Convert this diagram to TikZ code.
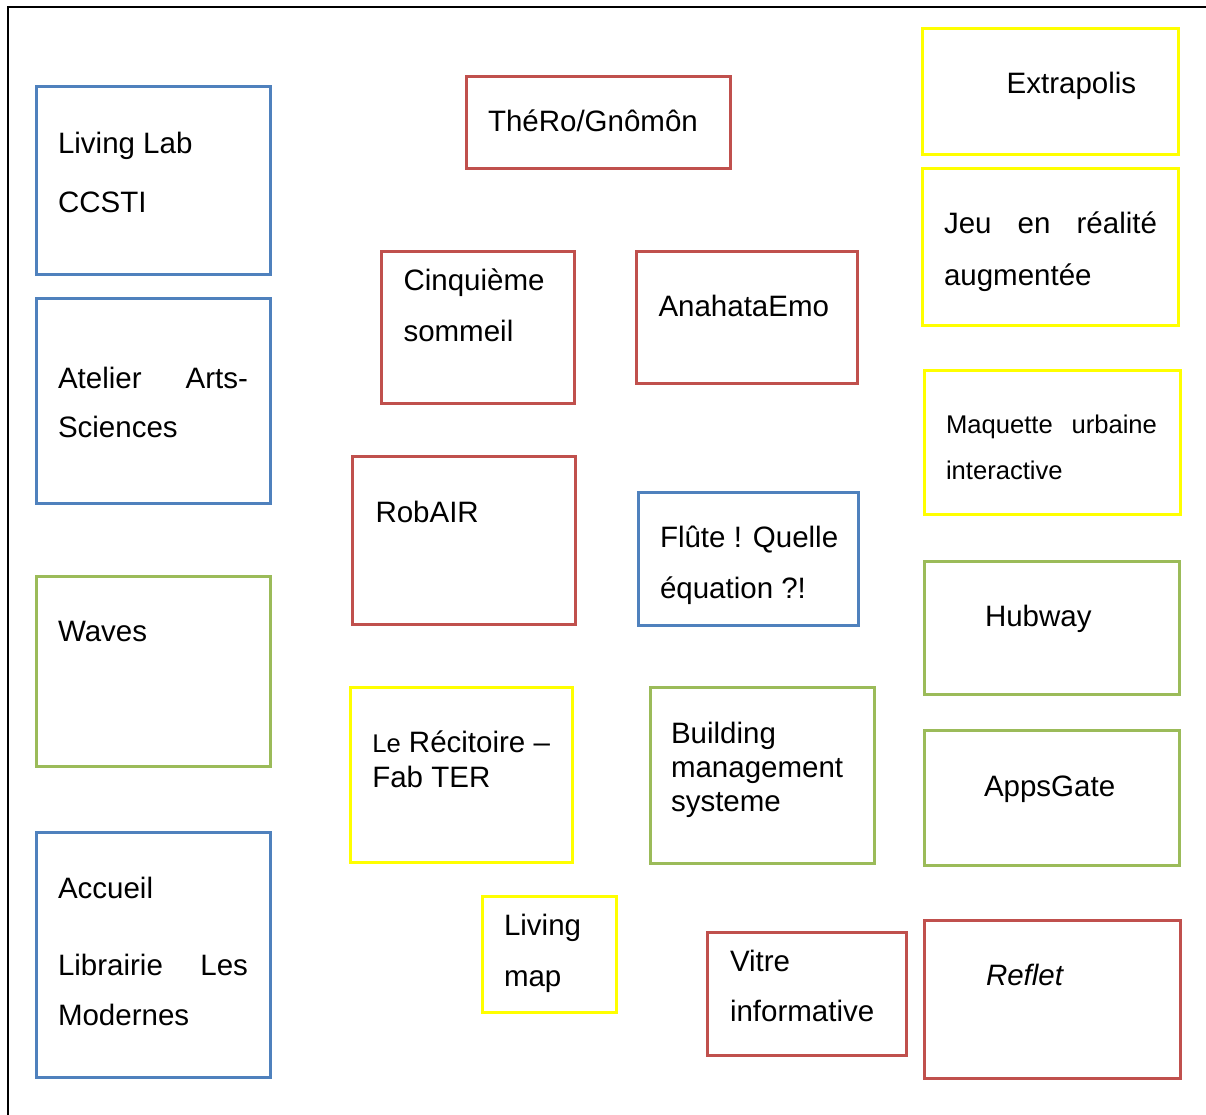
\documentclass[tikz,border=0pt]{standalone}
\usepackage{fontspec}
\setmainfont{Liberation Sans}
\definecolor{cblue}{HTML}{4F81BD}
\definecolor{cred}{HTML}{C0504D}
\definecolor{cgreen}{HTML}{9BBB59}
\definecolor{cyellow}{HTML}{FFFF00}
\begin{document}
\begin{tikzpicture}[x=1pt,y=-1pt,
  box/.style={draw, line width=3pt, inner sep=0pt, outer sep=0pt, anchor=north west},
  bbox/.style={box, draw=cblue},
  rbox/.style={box, draw=cred},
  gbox/.style={box, draw=cgreen},
  ybox/.style={box, draw=cyellow},
  txt/.style={anchor=base west, inner sep=0pt, outer sep=0pt, font=\fontsize{29.5}{35}\selectfont},
  stxt/.style={anchor=base west, inner sep=0pt, outer sep=0pt, font=\fontsize{25.6}{30}\selectfont}]
\useasboundingbox (0,0) rectangle (1206,1115);
\coordinate (fr1) at (8,1115);
\coordinate (fr2) at (8,7);
\coordinate (fr3) at (1206,7);
\draw[line width=2pt] (fr1) -- (fr2) -- (fr3);

% left column
\node[bbox, minimum width=234pt, minimum height=187.3pt] (ll) at (36,86.7) {};
\node[txt] (llt1) at (58,153.3) {Living Lab};
\node[txt] (llt2) at (58,212.3) {CCSTI};

\node[bbox, minimum width=234pt, minimum height=205pt] (aas) at (36,298.3) {};
\node[txt] (aast1) at (58,388.3) {\makebox[190pt][l]{Atelier\hfill Arts-}};
\node[txt] (aast2) at (58,437.7) {Sciences};

\node[gbox, minimum width=234pt, minimum height=189.3pt] (wav) at (36,576.7) {};
\node[txt] (wavt) at (58,641.7) {Waves};

\node[bbox, minimum width=234pt, minimum height=245.7pt] (acc) at (36,832) {};
\node[txt] (acct1) at (58,898) {Accueil};
\node[txt] (acct2) at (58,975) {\makebox[190pt][l]{Librairie\hfill Les}};
\node[txt] (acct3) at (58,1025) {Modernes};

% middle
\node[rbox, minimum width=264pt, minimum height=91.6pt] (thero) at (466,76.7) {};
\node[txt] (therot) at (488,131.7) {ThéRo/Gnômôn};

\node[rbox, minimum width=193pt, minimum height=151.3pt] (cinq) at (381,251.7) {};
\node[txt] (cinqt1) at (403.5,290) {Cinquième};
\node[txt] (cinqt2) at (403.5,341) {sommeil};

\node[rbox, minimum width=221pt, minimum height=131.6pt] (anah) at (636,251.7) {};
\node[txt] (anaht) at (658.5,316.7) {AnahataEmo};

\node[rbox, minimum width=223pt, minimum height=167.3pt] (rob) at (352,456.7) {};
\node[txt] (robt) at (375.5,522.7) {RobAIR};

\node[bbox, minimum width=220pt, minimum height=133.4pt] (flute) at (638,492.3) {};
\node[txt] (flutet1) at (660,547.3) {Flûte ! Quelle};
\node[txt] (flutet2) at (660,598.3) {équation ?!};

\node[ybox, minimum width=222.7pt, minimum height=175.4pt] (reci) at (350,687.3) {};
\node[txt] (recit1) at (372.3,752.7) {{\fontsize{25.6}{30}\selectfont Le} Récitoire –};
\node[txt] (recit2) at (372.3,787.3) {Fab TER};

\node[gbox, minimum width=224pt, minimum height=176pt] (bms) at (650,687) {};
\node[txt] (bmst1) at (671,743) {Building};
\node[txt] (bmst2) at (671,777) {management};
\node[txt] (bmst3) at (671,811) {systeme};

\node[ybox, minimum width=133.3pt, minimum height=116pt] (lmap) at (482.7,896.7) {};
\node[txt] (lmapt1) at (504,935) {Living};
\node[txt] (lmapt2) at (504,986.7) {map};

\node[rbox, minimum width=198.3pt, minimum height=123pt] (vitre) at (707.7,932.7) {};
\node[txt] (vitret1) at (730,971.7) {Vitre};
\node[txt] (vitret2) at (730,1021.7) {informative};

% right column
\node[ybox, minimum width=255.3pt, minimum height=126pt] (extra) at (922.7,28.3) {};
\node[txt] (extrat) at (1006.7,93.3) {Extrapolis};

\node[ybox, minimum width=255.3pt, minimum height=156.7pt] (jeu) at (922.7,169) {};
\node[txt] (jeut1) at (944,233.3) {\makebox[213pt][l]{Jeu\hfill en\hfill réalité}};
\node[txt] (jeut2) at (944,285) {augmentée};

\node[ybox, minimum width=256pt, minimum height=143.3pt] (maq) at (924,370.7) {};
\node[stxt] (maqt1) at (946,433.3) {\makebox[211pt][l]{Maquette\hfill urbaine}};
\node[stxt] (maqt2) at (946,479) {interactive};

\node[gbox, minimum width=255.3pt, minimum height=132.3pt] (hub) at (924,561.7) {};
\node[txt] (hubt) at (985,626) {Hubway};

\node[gbox, minimum width=255.3pt, minimum height=134.3pt] (apps) at (924,730.7) {};
\node[txt] (appst) at (984,796) {AppsGate};

\node[rbox, minimum width=255.7pt, minimum height=157.6pt] (refl) at (924.3,920.7) {};
\node[txt] (reflt) at (986,985) {\itshape Reflet};
\end{tikzpicture}
\end{document}
